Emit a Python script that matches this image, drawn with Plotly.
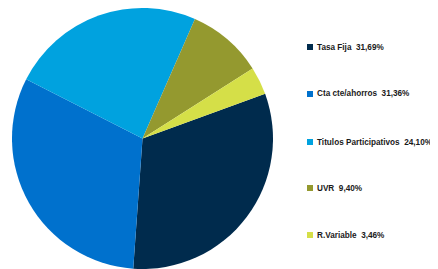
import plotly.graph_objects as go

labels = ["Tasa Fija", "Cta cte/ahorros", "Titulos Participativos", "UVR", "R.Variable"]
values = [31.69, 31.36, 24.10, 9.40, 3.46]
value_text = ["31,69%", "31,36%", "24,10%", "9,40%", "3,46%"]
colors = ["#002B4D", "#0071CD", "#00A2DF", "#94992F", "#D5DF48"]

W, H = 438, 269
OFF = 8  # page body offset

fig = go.Figure(go.Pie(
    labels=labels,
    values=values,
    sort=False,
    direction="clockwise",
    rotation=70,
    marker=dict(colors=colors, line=dict(width=0)),
    textinfo="none",
    hoverinfo="label+percent",
    showlegend=False,
    domain=dict(x=[(12 - OFF) / W, (273 - OFF) / W], y=[1 - (269 - OFF) / H, 1]),
))

row_y = [47, 94, 142, 188, 235]
shapes = []
annotations = []
for lab, txt, col, yy in zip(labels, value_text, colors, row_y):
    y = yy - OFF
    shapes.append(dict(type="rect", xref="paper", yref="paper",
                       x0=(307 - OFF) / W, x1=(313 - OFF) / W,
                       y0=1 - (y + 3) / H, y1=1 - (y - 3) / H,
                       fillcolor=col, line=dict(width=0)))
    annotations.append(dict(xref="paper", yref="paper", x=(315 - OFF) / W, y=1 - y / H,
                            xanchor="left", yanchor="middle", showarrow=False,
                            text=f"<b>{lab}&nbsp;&nbsp;{txt}</b>",
                            font=dict(family="Liberation Sans, Arial, sans-serif",
                                      size=8.2, color="#1a1a1a")))

fig.update_layout(
    width=W, height=H,
    margin=dict(l=0, r=0, t=0, b=0),
    paper_bgcolor="white",
    plot_bgcolor="white",
    shapes=shapes,
    annotations=annotations,
)

fig.write_html("out.html")
